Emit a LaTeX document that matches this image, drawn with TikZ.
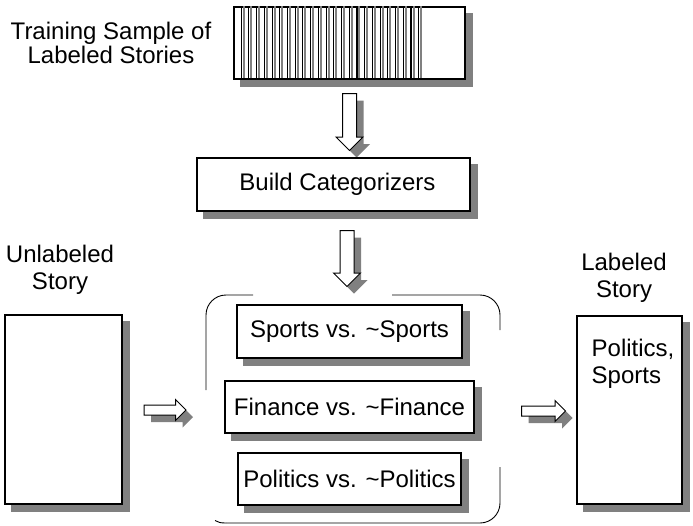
\documentclass[tikz,border=0pt]{standalone}
\usepackage{fontspec}
\setmainfont{Liberation Sans}
\usetikzlibrary{shapes.arrows, calc}
\definecolor{shadegray}{gray}{0.5}
\tikzset{
  shadowbox/.style={draw, fill=white, line width=1.1pt, inner sep=0pt},
  downarrow/.style={single arrow, shape border rotate=270, draw, fill=white, line width=1pt,
    inner sep=6.5pt, single arrow head extend=6.5pt, minimum height=57pt},
  rightarrow/.style={single arrow, draw, fill=white, line width=1pt,
    inner sep=4.5pt, single arrow head extend=5.5pt, minimum height=42pt},
  shadowcopy/.style={draw=none, fill=shadegray},
  shadowstrip/.style={shadegray, line width=7pt},
  caption/.style={align=center, inner sep=0pt}
}
% shadow copy of an arrow, drawn just before it
\newcommand{\shadowed}[3]{%
  \node[#1, shadowcopy] at ($(#3)+(7,7)$) {};
  \node[#1] (#2) at (#3) {};}

\begin{document}
\begin{tikzpicture}[x=1pt, y=-1pt, font=\fontsize{24}{27}\selectfont]
\useasboundingbox (0,0) rectangle (693,525);

% training stories
\node[caption, font=\fontsize{24}{24}\selectfont] (train) at (111,42.5) {Training Sample of\\Labeled Stories};
\node[shadowbox, minimum width=231pt, minimum height=72pt] (stack) at (349.5,43) {};
\foreach \k in {1,...,24} {
  \draw[shadegray, line width=2pt] ($(stack.north west)+(7.72*\k+2.5,0)$) -- ++(0,72);
  \draw[line width=1.1pt] ($(stack.north west)+(7.72*\k,0)$) -- ++(0,72);
}

\shadowed{downarrow}{down1}{349.5,118.5}
\node[shadowbox, minimum width=273pt, minimum height=53pt] (build) at (333.5,184.5) {\hspace{8pt}Build Categorizers};
\shadowed{downarrow, minimum height=56pt}{down2}{347,255}

% categorizers
\draw[line width=0.9pt, rounded corners=20pt] (253,295) -- (206,295) -- (206,390);
\draw[line width=0.9pt, rounded corners=20pt] (392,295) -- (500,295) -- (500,330);
\draw[line width=0.9pt, rounded corners=20pt] (500,467) -- (500,523) -- (226,523);
\draw[line width=0.9pt] (226,523) .. controls (221,523) and (218,522.5) .. (215,520.5);
\node[shadowbox, minimum width=225pt, minimum height=53pt] (sports) at (349.5,331.5) {Sports vs. \textasciitilde Sports};
\node[shadowbox, minimum width=249pt, minimum height=52pt] (finance) at (349.5,407) {Finance vs. \textasciitilde Finance};
\node[shadowbox, minimum width=223pt, minimum height=52pt] (politics) at (349.5,479) {Politics vs. \textasciitilde Politics};

% stories
\node[caption] (unlabtxt) at (60,270) {Unlabeled\\Story};
\node[shadowbox, minimum width=117pt, minimum height=189pt] (unlab) at (63.5,409.5) {};
\shadowed{rightarrow}{right1}{162.5,410}
\shadowed{rightarrow, minimum height=44pt}{right2}{541,411}
\node[caption] (labtxt) at (624,278) {Labeled\\Story};
\node[shadowbox, minimum width=105pt, minimum height=188pt] (lab) at (629.5,410) {};
\node[anchor=north west, align=left, inner sep=0pt] (result) at ($(lab.north west)+(15,23)$) {Politics,\\Sports};

% box shadows
\foreach \n in {stack, build, sports, finance, politics, unlab, lab} {
  \draw[shadowstrip] ($(\n.north east)+(3.5,7)$) -- ($(\n.south east)+(3.5,7)$);
  \draw[shadowstrip] ($(\n.south west)+(7,3.5)$) -- ($(\n.south east)+(0,3.5)$);
}
\end{tikzpicture}
\end{document}
